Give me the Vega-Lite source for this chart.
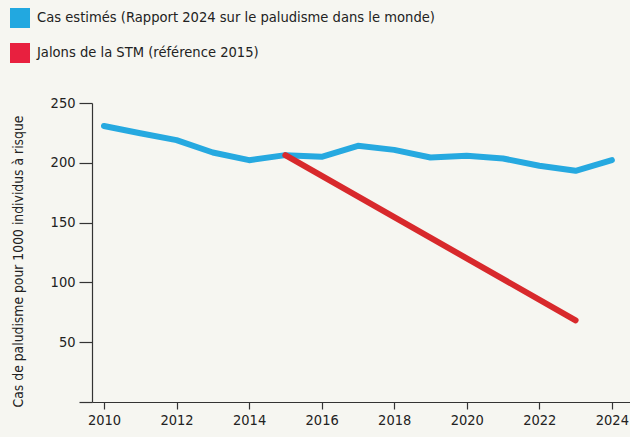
{
  "$schema": "https://vega.github.io/schema/vega-lite/v6.json",
  "width": 538,
  "height": 299,
  "autosize": {"type": "none"},
  "padding": {"left": 92, "top": 103, "right": 0, "bottom": 35},
  "background": "#f6f6f1",
  "config": {
    "view": {"stroke": null},
    "font": "DejaVu Sans Condensed",
    "axis": {"domainColor": "#333333", "tickColor": "#333333", "labelColor": "#222222", "titleColor": "#222222", "grid": false, "labelFontSize": 14.5, "domainWidth": 1.2, "tickWidth": 1.2}
  },
  "data": {
    "values": [
      {"annee": 2010, "valeur": 230.8, "serie": "Cas estimés (Rapport 2024 sur le paludisme dans le monde)"},
      {"annee": 2011, "valeur": 224.7, "serie": "Cas estimés (Rapport 2024 sur le paludisme dans le monde)"},
      {"annee": 2012, "valeur": 219.0, "serie": "Cas estimés (Rapport 2024 sur le paludisme dans le monde)"},
      {"annee": 2013, "valeur": 208.6, "serie": "Cas estimés (Rapport 2024 sur le paludisme dans le monde)"},
      {"annee": 2014, "valeur": 202.2, "serie": "Cas estimés (Rapport 2024 sur le paludisme dans le monde)"},
      {"annee": 2015, "valeur": 206.4, "serie": "Cas estimés (Rapport 2024 sur le paludisme dans le monde)"},
      {"annee": 2016, "valeur": 205.0, "serie": "Cas estimés (Rapport 2024 sur le paludisme dans le monde)"},
      {"annee": 2017, "valeur": 214.2, "serie": "Cas estimés (Rapport 2024 sur le paludisme dans le monde)"},
      {"annee": 2018, "valeur": 210.8, "serie": "Cas estimés (Rapport 2024 sur le paludisme dans le monde)"},
      {"annee": 2019, "valeur": 204.4, "serie": "Cas estimés (Rapport 2024 sur le paludisme dans le monde)"},
      {"annee": 2020, "valeur": 205.8, "serie": "Cas estimés (Rapport 2024 sur le paludisme dans le monde)"},
      {"annee": 2021, "valeur": 203.6, "serie": "Cas estimés (Rapport 2024 sur le paludisme dans le monde)"},
      {"annee": 2022, "valeur": 197.5, "serie": "Cas estimés (Rapport 2024 sur le paludisme dans le monde)"},
      {"annee": 2023, "valeur": 193.3, "serie": "Cas estimés (Rapport 2024 sur le paludisme dans le monde)"},
      {"annee": 2024, "valeur": 202.2, "serie": "Cas estimés (Rapport 2024 sur le paludisme dans le monde)"},
      {"annee": 2015, "valeur": 206.4, "serie": "Jalons de la STM (référence 2015)"},
      {"annee": 2023, "valeur": 68.3, "serie": "Jalons de la STM (référence 2015)"}
    ]
  },
  "mark": {"type": "line", "strokeWidth": 6, "strokeCap": "round", "strokeJoin": "round"},
  "encoding": {
    "x": {
      "field": "annee", "type": "quantitative",
      "scale": {"domain": [2009.67, 2024.5], "nice": false, "zero": false},
      "axis": {"values": [2010, 2012, 2014, 2016, 2018, 2020, 2022, 2024], "format": "d", "title": null, "tickSize": 7, "labelPadding": 4}
    },
    "y": {
      "field": "valeur", "type": "quantitative",
      "scale": {"domain": [0, 250], "nice": false},
      "axis": {"values": [0, 50, 100, 150, 200, 250], "labelExpr": "datum.value == 0 ? '' : datum.label", "tickSize": 13, "labelPadding": 4, "title": "Cas de paludisme pour 1000 individus à risque", "titleFontSize": 13.8, "titleFontWeight": "normal", "titlePadding": 25, "titleY": 158}
    },
    "color": {
      "field": "serie", "type": "nominal",
      "scale": {"domain": ["Cas estimés (Rapport 2024 sur le paludisme dans le monde)", "Jalons de la STM (référence 2015)"], "range": ["#26a9e0", "#d8292c"]},
      "legend": {
        "title": null, "orient": "none", "legendX": -82, "legendY": -95,
        "symbolType": "square", "symbolSize": 400, "labelFontSize": 14.6, "labelColor": "#222222", "labelLimit": 0,
        "rowPadding": 15, "labelOffset": 7, "direction": "vertical",
        "encode": {"symbols": {"update": {"fill": {"signal": "datum.value === 'Jalons de la STM (référence 2015)' ? '#e8203f' : '#22a8e0'"}, "stroke": {"value": "transparent"}, "strokeWidth": {"value": 0}}}}
      }
    }
  }
}
